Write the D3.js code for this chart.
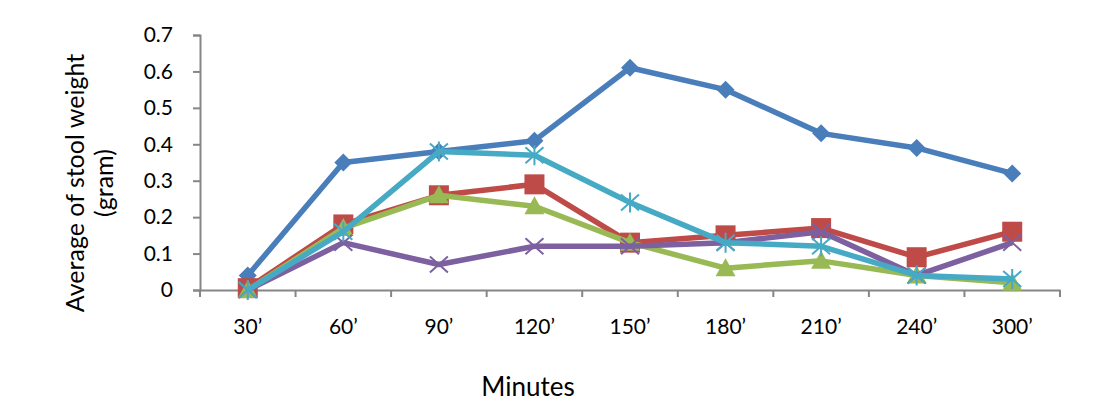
<!DOCTYPE html>
<html>
<head>
<meta charset="utf-8">
<script src="https://cdn.jsdelivr.net/npm/d3@7"></script>
<style>
  body { margin: 0; background: #fff; }
  svg text { font-family: Lato, "Open Sans", sans-serif; fill: #000; }
</style>
</head>
<body>
<svg id="chart" width="1109" height="419"></svg>
<script>
// Chart data
const minutes = ["30’", "60’", "90’", "120’", "150’", "180’", "210’", "240’", "300’"];
const yTicks = [0, 0.1, 0.2, 0.3, 0.4, 0.5, 0.6, 0.7];
const seriesBlue = [0.04, 0.35, 0.38, 0.41, 0.61, 0.55, 0.43, 0.39, 0.32];
const seriesRed = [0.005, 0.18, 0.26, 0.29, 0.13, 0.15, 0.17, 0.09, 0.16];
const seriesGreen = [0, 0.17, 0.26, 0.23, 0.13, 0.06, 0.08, 0.04, 0.02];
const seriesPurple = [0, 0.13, 0.07, 0.12, 0.12, 0.13, 0.16, 0.04, 0.13];
const seriesCyan = [0, 0.16, 0.38, 0.37, 0.24, 0.13, 0.12, 0.04, 0.03];

const series = [
  { values: seriesBlue, color: "#4a7ebb", marker: "diamond" },
  { values: seriesRed, color: "#be4b48", marker: "square" },
  { values: seriesGreen, color: "#98b954", marker: "triangle" },
  { values: seriesPurple, color: "#7d60a0", marker: "x" },
  { values: seriesCyan, color: "#46aac5", marker: "star" }
];

const plotLeft = 200, plotRight = 1060, plotTop = 35, plotBottom = 290;
const svg = d3.select("#chart");

const x = d3.scaleBand().domain(minutes).range([plotLeft, plotRight]);
const y = d3.scaleLinear().domain([0, 0.7]).range([plotBottom, plotTop]);

// Axes
const axisColor = "#868686";
const yAxis = svg.append("g")
  .attr("transform", `translate(${plotLeft},0)`)
  .call(d3.axisLeft(y).tickValues(yTicks).tickSize(7).tickPadding(20)
    .tickFormat(d => d === 0 ? "0" : d3.format(".1f")(d)));
yAxis.select(".domain").attr("stroke", axisColor).attr("stroke-width", 2);
yAxis.selectAll(".tick line").attr("stroke", axisColor).attr("stroke-width", 2);
yAxis.selectAll("text").style("font-size", "21px");

const xAxis = svg.append("g")
  .attr("transform", `translate(0,${plotBottom})`)
  .call(d3.axisBottom(x).tickSize(0).tickPadding(29));
xAxis.select(".domain").attr("stroke", axisColor).attr("stroke-width", 2);
xAxis.selectAll("text").style("font-size", "21px");

// category boundary ticks
const bounds = minutes.map(m => x(m)).concat([plotRight]);
xAxis.selectAll(".btick").data(bounds).enter().append("line")
  .attr("x1", d => d).attr("x2", d => d)
  .attr("y1", 0).attr("y2", 7)
  .attr("stroke", axisColor).attr("stroke-width", 2);

// Axis titles
svg.append("text")
  .attr("transform", "translate(84,183) rotate(-90)")
  .attr("text-anchor", "middle")
  .style("font-size", "25px")
  .text("Average of stool weight");
svg.append("text")
  .attr("transform", "translate(113,183) rotate(-90)")
  .attr("text-anchor", "middle")
  .style("font-size", "25px")
  .text("(gram)");
svg.append("text")
  .attr("x", 528).attr("y", 396)
  .attr("text-anchor", "middle")
  .style("font-size", "26px")
  .text("Minutes");

const cx = (d, i) => x(minutes[i]) + x.bandwidth() / 2;
const line = d3.line().x(cx).y(d => y(d));

series.forEach(s => {
  const g = svg.append("g");
  g.append("path")
    .datum(s.values)
    .attr("fill", "none")
    .attr("stroke", s.color)
    .attr("stroke-width", 5.5)
    .attr("stroke-linejoin", "round")
    .attr("d", line);

  const pts = g.selectAll(".pt").data(s.values).enter().append("g")
    .attr("transform", (d, i) => `translate(${cx(d, i)},${y(d)})`);

  if (s.marker === "diamond") {
    pts.append("path").attr("d", "M0,-9L9,0L0,9L-9,0Z").attr("fill", s.color);
  } else if (s.marker === "square") {
    pts.append("rect").attr("x", -10).attr("y", -10).attr("width", 20).attr("height", 20).attr("fill", s.color);
  } else if (s.marker === "triangle") {
    pts.append("path").attr("d", "M0,-10L10,8L-10,8Z").attr("fill", s.color);
  } else if (s.marker === "x") {
    pts.append("path").attr("d", "M-9,-8L9,8M-9,8L9,-8")
      .attr("stroke", s.color).attr("stroke-width", 2).attr("fill", "none");
  } else if (s.marker === "star") {
    pts.append("path").attr("d", "M-9,-8L9,8M-9,8L9,-8M0,-10L0,10")
      .attr("stroke", s.color).attr("stroke-width", 2).attr("fill", "none");
  }
});
</script>
</body>
</html>
